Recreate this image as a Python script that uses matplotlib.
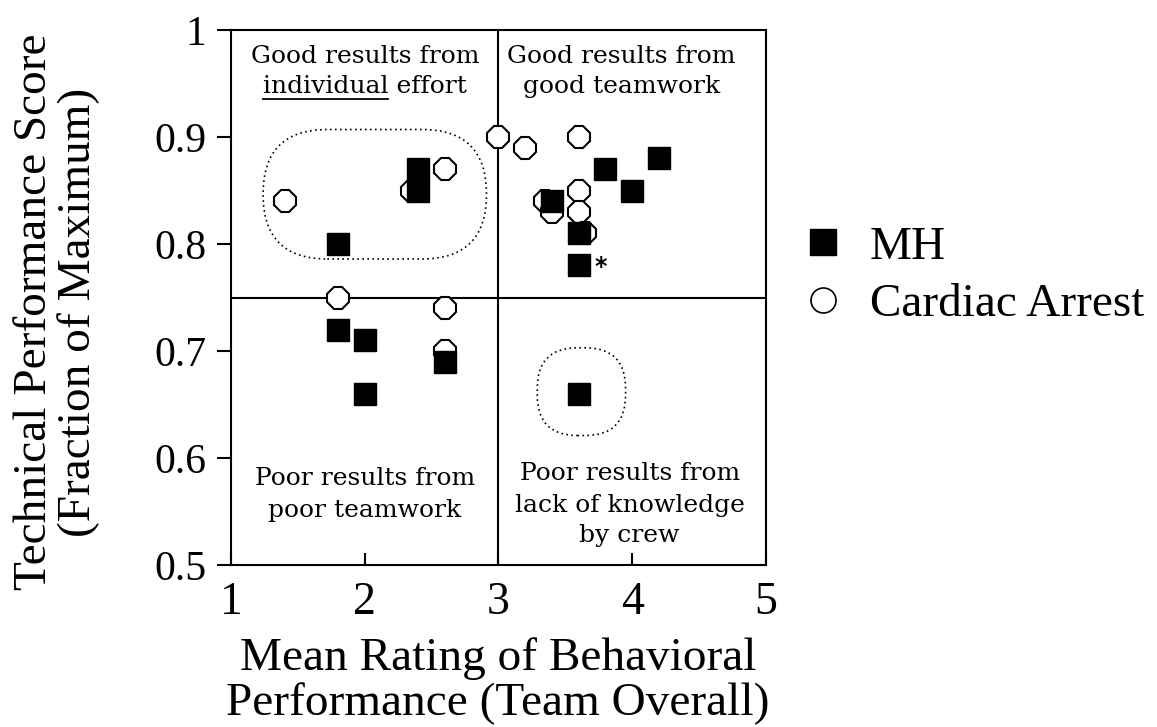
import matplotlib
matplotlib.use("Agg")
import matplotlib.pyplot as plt
from matplotlib.lines import Line2D
from matplotlib.patches import FancyBboxPatch

# MH scenario teams (filled squares)
mh_x = [1.8, 2.4, 2.4, 1.8, 2.0, 2.0, 2.6, 3.4, 3.8, 4.0, 4.2, 3.6, 3.6, 3.6]
mh_y = [0.80, 0.87, 0.85, 0.72, 0.71, 0.66, 0.69, 0.84, 0.87, 0.85, 0.88, 0.81, 0.78, 0.66]

# Cardiac arrest scenario teams (open circles)
ca_x = [1.4, 2.35, 2.6, 1.8, 2.6, 2.6, 3.0, 3.2, 3.6, 3.6, 3.6, 3.35, 3.4, 3.65]
ca_y = [0.84, 0.85, 0.87, 0.75, 0.74, 0.70, 0.90, 0.89, 0.90, 0.85, 0.83, 0.84, 0.83, 0.81]

x_ticks = [1, 2, 3, 4, 5]
y_ticks = [0.5, 0.6, 0.7, 0.8, 0.9, 1.0]
y_ticklabels = ["0.5", "0.6", "0.7", "0.8", "0.9", "1"]

plt.rcParams['font.family'] = ['Liberation Serif', 'DejaVu Serif']

W, H = 1157, 727
fig = plt.figure(figsize=(W / 100, H / 100), dpi=100)
ax = fig.add_axes([231 / W, 1 - 565 / H, 535 / W, 535 / H])

ax.set_xlim(1, 5)
ax.set_ylim(0.5, 1.0)
for s in ax.spines.values():
    s.set_linewidth(1.5)

ax.set_xticks(x_ticks)
ax.set_xticklabels([str(v) for v in x_ticks])
ax.set_yticks(y_ticks)
ax.set_yticklabels(y_ticklabels)
ax.tick_params(axis='x', direction='in', length=8.5, width=1.5, pad=12, labelsize=33)
ax.tick_params(axis='y', direction='out', length=10, width=1.5, pad=8, labelsize=30)

# quadrant dividers
ax.axvline(3, color='black', lw=1.5, zorder=1)
ax.axhline(0.75, color='black', lw=1.5, zorder=1)

# data
ax.plot(ca_x, ca_y, ls='none', marker='8', ms=16.5, mfc='white', mec='black',
        mew=1.5, zorder=3)
ax.plot(mh_x, mh_y, ls='none', marker='s', ms=16, mfc='black', mec='black',
        mew=1, zorder=4)
ax.annotate('*', xy=(3.6, 0.78), xytext=(16, -6), textcoords='offset points',
            ha='center', va='baseline', fontsize=17, fontweight='bold',
            family='DejaVu Sans', zorder=5)

# dotted groupings (rounded boxes)
asp = (535 / 4) / (535 / 0.5)
box1 = FancyBboxPatch((1.24, 0.786), 2.91 - 1.24, 0.907 - 0.786,
                      boxstyle="round,pad=0,rounding_size=0.48",
                      mutation_aspect=asp, fill=False, ec='black', lw=1.2,
                      ls=(0, (1, 2)), zorder=2)
box2 = FancyBboxPatch((3.29, 0.621), 3.95 - 3.29, 0.703 - 0.621,
                      boxstyle="round,pad=0,rounding_size=0.3",
                      mutation_aspect=asp, fill=False, ec='black', lw=1.2,
                      ls=(0, (1, 2)), zorder=2)
ax.add_patch(box1)
ax.add_patch(box2)

# quadrant captions
qfont = dict(family='DejaVu Serif', fontsize=18, ha='center', va='baseline', zorder=5)
ax.text(2.0, 0.969, "Good results from", **qfont)
line2 = ax.text(2.0, 0.941, "individual effort", **qfont)
ax.text(3.92, 0.969, "Good results from", **qfont)
ax.text(3.92, 0.941, "good teamwork", **qfont)
ax.text(2.0, 0.575, "Poor results from", **qfont)
ax.text(2.0, 0.545, "poor teamwork", **qfont)
ax.text(3.98, 0.579, "Poor results from", **qfont)
ax.text(3.98, 0.5495, "lack of knowledge", **qfont)
ax.text(3.98, 0.5215, "by crew", **qfont)

# underline "individual"
fig.canvas.draw()
r = fig.canvas.get_renderer()
full = line2.get_window_extent(r)
tmp = ax.text(0, 0, "individual", **qfont)
w_ind = tmp.get_window_extent(r).width
tmp.remove()
inv = ax.transData.inverted()
x0, yb = inv.transform((full.x0, 0))[0], 0.941
x1 = inv.transform((full.x0 + w_ind, 0))[0]
y_ul = inv.transform((0, ax.transData.transform((0, yb))[1] - 6))[1]
ax.plot([x0, x1], [y_ul, y_ul], color='black', lw=1.3, zorder=5)

# axis titles
fig.text(498 / W, 1 - 681 / H, "Mean Rating of Behavioral\nPerformance (Team Overall)",
         ha='center', va='center', fontsize=34, linespacing=1.05)
fig.text(57 / W, 1 - 312 / H, "Technical Performance Score\n(Fraction of Maximum)",
         ha='center', va='center', rotation=90, fontsize=34, linespacing=1.05)

handles = [
    Line2D([], [], ls='none', marker='s', ms=19, mfc='black', mec='black'),
    Line2D([], [], ls='none', marker='o', ms=18, mfc='white', mec='black', mew=1.2),
]
fig.legend(handles, ["MH", "Cardiac Arrest"], loc='center left',
           bbox_to_anchor=(799 / W, 1 - 276 / H), frameon=False, fontsize=34,
           borderpad=0, borderaxespad=0, handlelength=1.0, handletextpad=0.5,
           labelspacing=0.3)

fig.savefig("out.png", dpi=100)
